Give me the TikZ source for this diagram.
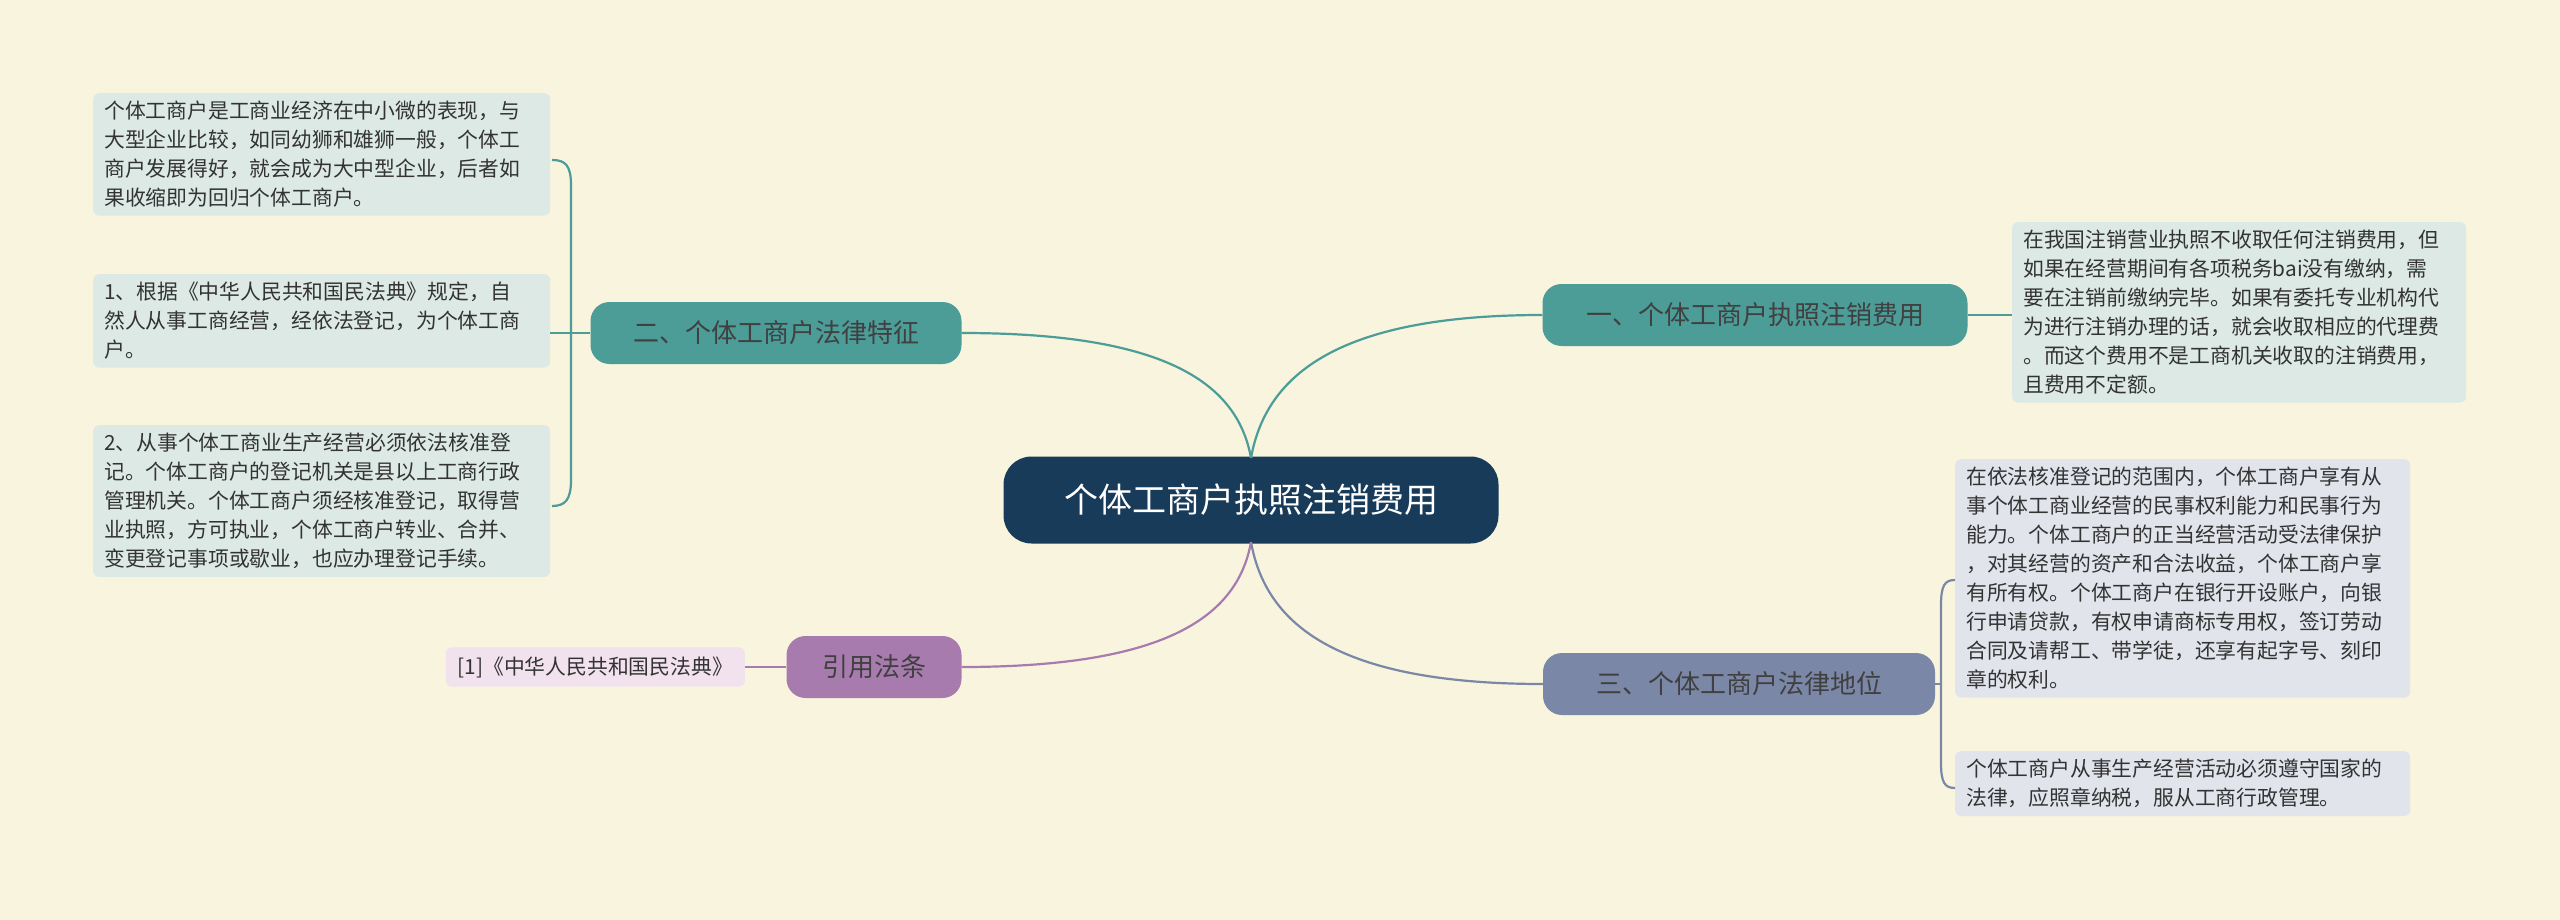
\documentclass[tikz,border=0pt]{standalone}
\usepackage{fontspec}
\setmainfont{Noto Sans CJK SC}
\begin{document}
\begin{tikzpicture}[x=1pt,y=-1pt,
  leaf/.style={rounded corners=6pt,inner xsep=11pt,inner ysep=8pt,align=left,font=\fontsize{20.8}{29}\selectfont,text=black!80,anchor=north west},
  branch/.style={rounded corners=19pt,minimum height=62pt,font=\fontsize{26}{30}\selectfont,text=black!75,inner xsep=20pt},
  con/.style={line width=2.2pt}]
\definecolor{bg}{HTML}{F9F4DE}
\definecolor{navy}{HTML}{173B59}
\definecolor{teal}{HTML}{4C9C98}
\definecolor{slate}{HTML}{7A87A6}
\definecolor{purp}{HTML}{A77BAE}
\definecolor{tleaf}{HTML}{DCE9E4}
\definecolor{sleaf}{HTML}{E2E4EC}
\definecolor{pleaf}{HTML}{F1E2EE}
\fill[bg] (0,0) rectangle (2560,920);
\useasboundingbox (0,0) rectangle (2560,920);
% center
\node[fill=navy,rounded corners=28pt,minimum width=495pt,minimum height=87pt,text=white,font=\fontsize{34}{40}\selectfont] (c) at (1251,500) {个体工商户执照注销费用};
% branches
\node[branch,fill=teal,minimum width=425pt] (b1) at (1755,315) {一、个体工商户执照注销费用};
\node[branch,fill=teal,minimum width=371pt] (b2) at (776,333) {二、个体工商户法律特征};
\node[branch,fill=slate,minimum width=392pt] (b3) at (1739,684) {三、个体工商户法律地位};
\node[branch,fill=purp,minimum width=175pt] (b4) at (874,667) {引用法条};
% leaves
\node[leaf,fill=tleaf,text width=435pt] (l1) at (93,93) {个体工商户是工商业经济在中小微的表现，与\\大型企业比较，如同幼狮和雄狮一般，个体工\\商户发展得好，就会成为大中型企业，后者如\\果收缩即为回归个体工商户。};
\node[leaf,fill=tleaf,text width=435pt] (l2) at (93,274) {1、根据《中华人民共和国民法典》规定，自\\然人从事工商经营，经依法登记，为个体工商\\户。};
\node[leaf,fill=tleaf,text width=435pt] (l3) at (93,425) {2、从事个体工商业生产经营必须依法核准登\\记。个体工商户的登记机关是县以上工商行政\\管理机关。个体工商户须经核准登记，取得营\\业执照，方可执业，个体工商户转业、合并、\\变更登记事项或歇业，也应办理登记手续。};
\node[leaf,fill=tleaf,text width=432pt] (r1) at (2012,222) {在我国注销营业执照不收取任何注销费用，但\\如果在经营期间有各项税务bai没有缴纳，需\\要在注销前缴纳完毕。如果有委托专业机构代\\为进行注销办理的话，就会收取相应的代理费\\。而这个费用不是工商机关收取的注销费用，\\且费用不定额。};
\node[leaf,fill=sleaf,text width=433pt] (r2) at (1955,459) {在依法核准登记的范围内，个体工商户享有从\\事个体工商业经营的民事权利能力和民事行为\\能力。个体工商户的正当经营活动受法律保护\\，对其经营的资产和合法收益，个体工商户享\\有所有权。个体工商户在银行开设账户，向银\\行申请贷款，有权申请商标专用权，签订劳动\\合同及请帮工、带学徒，还享有起字号、刻印\\章的权利。};
\node[leaf,fill=sleaf,text width=433pt] (r3) at (1955,751) {个体工商户从事生产经营活动必须遵守国家的\\法律，应照章纳税，服从工商行政管理。};
\node[leaf,fill=pleaf,anchor=east,inner ysep=9pt,inner xsep=12pt] (ref) at (745,667) {[1]《中华人民共和国民法典》};
% connectors
\coordinate (ct) at (1251,458);
\coordinate (cb) at (1251,542);
\draw[con,teal] (ct) .. controls (1265,380) and (1330,315) .. (b1.west);
\draw[con,teal] (ct) .. controls (1237,380) and (1160,333) .. (b2.east);
\draw[con,slate] (cb) .. controls (1265,620) and (1330,684) .. (b3.west);
\draw[con,purp] (cb) .. controls (1237,620) and (1160,667) .. (b4.east);
\draw[con,teal] (b1.east) -- (r1.west |- b1.east);
\draw[con,purp] (b4.west) -- (ref.east);
\coordinate (k2) at (571,333);
\draw[con,teal] (b2.west) -- (k2) -- (l2.east |- k2);
\draw[con,teal] (k2) -- (571,185) .. controls (571,165) and (565,160) .. (552,160);
\draw[con,teal] (k2) -- (571,480) .. controls (571,500) and (565,506) .. (552,506);
\coordinate (k3) at (1941,684);
\draw[con,slate] (b3.east) -- (k3);
\draw[con,slate] (k3) -- (1941,605) .. controls (1941,585) and (1945,580) .. (1955,580);
\draw[con,slate] (k3) -- (1941,763) .. controls (1941,783) and (1945,788) .. (1955,788);
\end{tikzpicture}
\end{document}
